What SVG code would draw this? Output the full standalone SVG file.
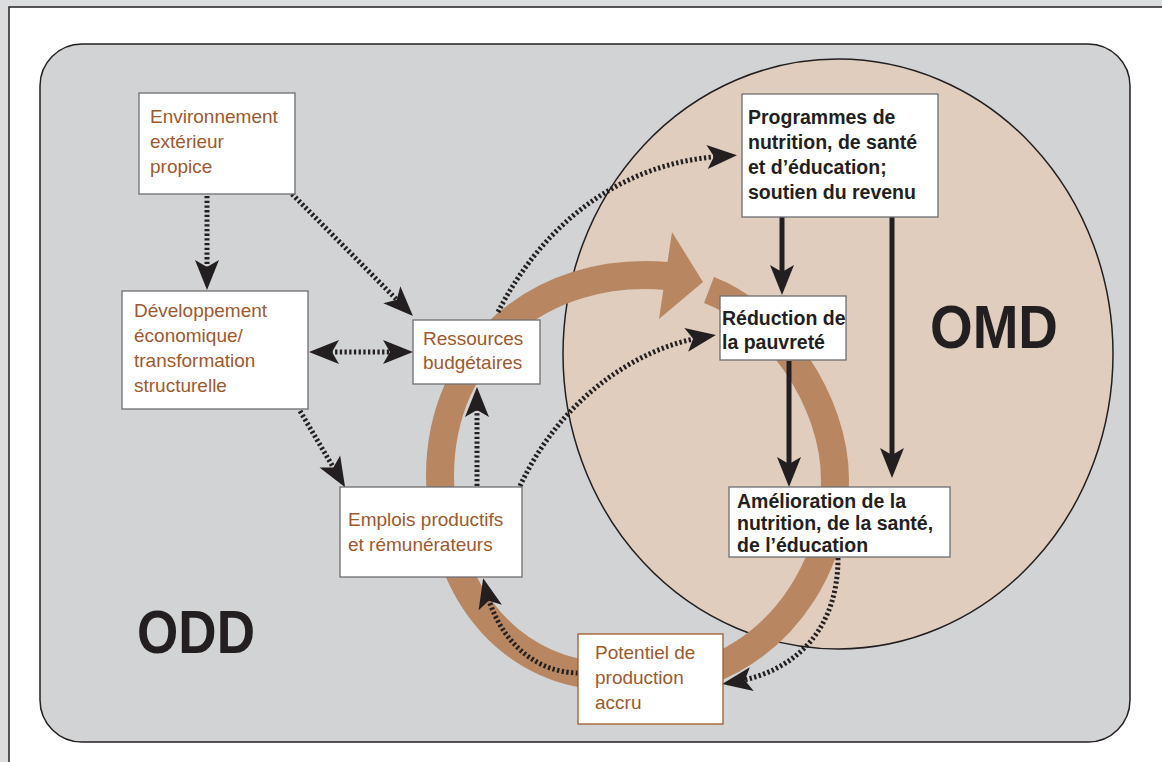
<svg xmlns="http://www.w3.org/2000/svg" width="1162" height="762" viewBox="0 0 1162 762">
<defs>
<style>
.lbl{font-family:"Liberation Sans",Arial,Helvetica,sans-serif;font-size:19px;fill:#a0592c}
.bld{font-family:"Liberation Sans",Arial,Helvetica,sans-serif;font-size:19.5px;font-weight:bold;fill:#231f20}
.big{font-family:"Liberation Sans",Arial,Helvetica,sans-serif;font-size:61px;font-weight:bold;fill:#231f20}
.box{fill:#fff;stroke:#6d6e71;stroke-width:1.3}
.dot{fill:none;stroke:#231f20;stroke-width:5;stroke-dasharray:2.3 2.4}
.sol{fill:none;stroke:#231f20;stroke-width:5}
.band{fill:none;stroke:#b88762;stroke-width:28}
</style>
<marker id="ah" viewBox="-32 -14 34 28" refX="-12" refY="0" markerWidth="34" markerHeight="28" markerUnits="userSpaceOnUse" orient="auto-start-reverse">
<path d="M0,0 L-30,-12 L-23,0 L-30,12 Z" fill="#231f20"/>
</marker>
</defs>
<rect x="0" y="0" width="1162" height="762" fill="#dcdddf"/>
<rect x="9" y="7" width="1160" height="770" fill="#fff" stroke="#231f20" stroke-width="1.5"/>
<rect x="40" y="44" width="1090" height="698" rx="42" ry="42" fill="#d1d3d4" stroke="#231f20" stroke-width="1.5"/>
<ellipse cx="838" cy="354" rx="275" ry="295" fill="#e0cdbd" stroke="#231f20" stroke-width="1.5"/>
<g id="cycle">
<path class="band" d="M610,676 C520,676 440,600 440,476 C440,350 540,265 667,276"/>
<polygon points="672,232 703,282 659,319" fill="#b88762"/>
<path class="band" d="M709,290 C775,315 835,400 835,480 C835,560 790,640 705,672"/>
</g>
<g id="connectors">
<path class="dot" d="M207,196 L207,278" marker-end="url(#ah)"/>
<path class="dot" d="M292,194 L404.5,307.5" marker-end="url(#ah)"/>
<path class="dot" d="M321,352 L401,352" marker-start="url(#ah)" marker-end="url(#ah)"/>
<path class="dot" d="M300,411 L339,477" marker-end="url(#ah)"/>
<path class="dot" d="M477,486 L477,399" marker-end="url(#ah)"/>
<path class="dot" d="M520,486 C560,400 635,348 704,337" marker-end="url(#ah)"/>
<path class="dot" d="M498,312 C540,230 615,162 725,156" marker-end="url(#ah)"/>
<path class="dot" d="M838,558 C838,630 795,672 734,682" marker-end="url(#ah)"/>
<path class="dot" d="M578,673 C530,672 497,635 486,590" marker-end="url(#ah)"/>
<path class="sol" d="M782,217 L782,283" marker-end="url(#ah)"/>
<path class="sol" d="M892,217 L892,466" marker-end="url(#ah)"/>
<path class="sol" d="M789,361 L789,475" marker-end="url(#ah)"/>
</g>
<g id="env">
<rect class="box" x="139" y="93" width="156" height="101"/>
<text class="lbl"><tspan x="150" y="123">Environnement</tspan><tspan x="150" y="148">extérieur</tspan><tspan x="150" y="173">propice</tspan></text>
</g>
<g id="dev">
<rect class="box" x="122" y="291" width="186" height="118"/>
<text class="lbl"><tspan x="134" y="317">Développement</tspan><tspan x="134" y="342">économique/</tspan><tspan x="134" y="367">transformation</tspan><tspan x="134" y="392">structurelle</tspan></text>
</g>
<g id="res">
<rect class="box" x="413" y="320" width="127" height="64"/>
<text class="lbl"><tspan x="423" y="345">Ressources</tspan><tspan x="423" y="369">budgétaires</tspan></text>
</g>
<g id="emp">
<rect class="box" x="340" y="487" width="182" height="90"/>
<text class="lbl"><tspan x="348" y="526">Emplois productifs</tspan><tspan x="348" y="551">et rémunérateurs</tspan></text>
</g>
<g id="pot">
<rect class="box" x="578" y="634" width="145" height="90" style="stroke:#a0592c"/>
<text class="lbl"><tspan x="595" y="659">Potentiel de</tspan><tspan x="595" y="684">production</tspan><tspan x="595" y="709">accru</tspan></text>
</g>
<g id="prog">
<rect class="box" x="742" y="94" width="196" height="123"/>
<text class="bld"><tspan x="748" y="124">Programmes de</tspan><tspan x="748" y="149">nutrition, de santé</tspan><tspan x="748" y="174">et d’éducation;</tspan><tspan x="748" y="199">soutien du revenu</tspan></text>
</g>
<g id="red">
<rect class="box" x="720" y="296" width="126" height="64"/>
<text class="bld"><tspan x="722" y="325">Réduction de</tspan><tspan x="722" y="349">la pauvreté</tspan></text>
</g>
<g id="ame">
<rect class="box" x="729" y="487" width="221" height="70"/>
<text class="bld"><tspan x="737" y="508">Amélioration de la</tspan><tspan x="737" y="530">nutrition, de la santé,</tspan><tspan x="737" y="552">de l’éducation</tspan></text>
</g>
<g id="omd"><text class="big" x="930" y="348" textLength="128" lengthAdjust="spacingAndGlyphs">OMD</text></g>
<g id="odd"><text class="big" x="137" y="653" textLength="118" lengthAdjust="spacingAndGlyphs">ODD</text></g>
</svg>
